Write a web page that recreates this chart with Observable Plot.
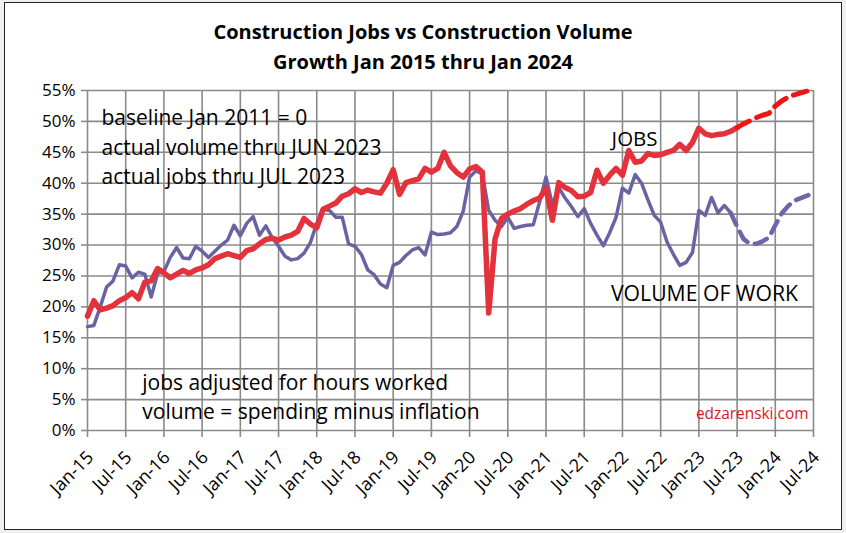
<!DOCTYPE html>
<html><head><meta charset="utf-8">
<script src="https://cdn.jsdelivr.net/npm/d3@7"></script>
<script src="https://cdn.jsdelivr.net/npm/@observablehq/plot@0.6"></script>
<style>
html,body{margin:0;padding:0;background:#efefef;width:846px;height:533px;overflow:hidden;}
#frame{position:absolute;left:4px;top:2px;width:838px;height:528px;background:#fff;border:1.5px solid #222;box-sizing:border-box;}
#title{position:absolute;left:0;top:17px;width:846px;text-align:center;font-family:"Open Sans",sans-serif;font-weight:bold;font-size:20px;line-height:30px;color:#000;}
#chart{position:absolute;left:0;top:75px;}
</style></head>
<body>
<div id="frame"></div>
<div id="title">Construction Jobs vs Construction Volume<br>Growth Jan 2015 thru Jan 2024</div>
<div id="chart"></div>
<script>
// x tick labels, one every 6 months starting Jan-15 (month index 0)
const tickLabels = ["Jan-15","Jul-15","Jan-16","Jul-16","Jan-17","Jul-17","Jan-18","Jul-18","Jan-19","Jul-19",
  "Jan-20","Jul-20","Jan-21","Jul-21","Jan-22","Jul-22","Jan-23","Jul-23","Jan-24","Jul-24"];
const yTicks = [0,5,10,15,20,25,30,35,40,45,50,55];

// Jobs growth %, monthly Jan-15 .. Jul-23 (actual)
const jobsActual = [
  18.5,21.0,19.5,19.8,20.2,21.0,21.5,22.3,21.3,24.0,24.2,26.2,
  25.5,24.7,25.3,25.9,25.4,26.0,26.3,26.8,27.8,28.2,28.6,28.3,
  28.0,29.1,29.4,30.2,30.9,31.1,30.8,31.3,31.6,32.2,34.3,33.4,
  32.8,35.8,36.3,36.8,37.9,38.3,39.1,38.5,38.9,38.6,38.4,40.0,
  42.2,38.2,40.1,40.4,40.7,42.4,41.8,42.4,45.0,42.8,41.7,41.0,
  42.3,42.7,41.8,19.0,31.0,34.3,35.0,35.5,35.9,36.6,37.2,37.6,
  39.2,34.0,40.1,39.3,38.8,37.8,37.9,38.5,42.1,40.0,41.3,42.4,
  41.3,45.3,43.4,43.6,44.8,44.5,44.6,45.0,45.3,46.3,45.3,46.6,
  48.9,48.0,47.7,47.9,48.0,48.4,49.0];
// Jobs forecast, monthly Jul-23 .. Jul-24
const jobsForecast = [49.0,49.6,50.1,50.6,51.0,51.3,52.5,53.3,53.9,54.3,54.6,54.9,55.1];
const jobsForecastStart = 102;

// Volume growth %, monthly Jan-15 .. Jun-23 (actual)
const volumeActual = [
  16.8,17.0,20.0,23.2,24.2,26.8,26.6,24.7,25.6,25.3,21.6,25.4,
  25.7,28.0,29.6,27.9,27.8,29.8,29.0,28.0,29.0,30.0,30.8,33.2,
  31.5,33.5,34.6,31.6,33.1,31.2,29.8,28.2,27.6,27.8,28.7,30.4,
  33.5,35.8,35.6,34.5,34.5,30.2,29.8,28.5,26.0,25.2,23.7,23.1,
  26.7,27.2,28.3,29.2,29.6,28.4,32.1,31.7,31.8,32.0,33.0,35.5,
  41.0,42.0,41.5,35.6,34.0,33.0,34.5,32.7,33.0,33.2,33.3,37.0,
  41.0,36.5,39.3,37.6,36.2,34.6,35.9,33.5,31.6,29.9,32.0,34.5,
  39.2,38.4,41.4,40.0,37.3,34.8,33.7,30.5,28.5,26.7,27.2,28.8,
  35.6,34.8,37.7,35.2,36.4,35.2];
// Volume forecast, monthly Jun-23 .. Jul-24
const volumeForecast = [35.2,33.0,31.0,30.2,30.2,30.6,31.2,33.2,35.1,36.3,37.2,37.6,38.0,38.4];
const volumeForecastStart = 101;

const notesTopLeft = "baseline Jan 2011 = 0\nactual volume thru JUN 2023\nactual jobs thru JUL 2023";
const notesBottomLeft = "jobs adjusted for hours worked\nvolume = spending minus inflation";

const toRows = (arr, start) => arr.map((v, k) => ({m: start + k, v}));
const jobsA = toRows(jobsActual, 0), jobsF = toRows(jobsForecast, jobsForecastStart);
const volA = toRows(volumeActual, 0), volF = toRows(volumeForecast, volumeForecastStart);
const xTicks = tickLabels.map((_, k) => k * 6);

const grid = "#8a8a8a";
const font = "'Open Sans', sans-serif";

const chart = Plot.plot({
  width: 846, height: 455,
  marginLeft: 87, marginRight: 33, marginTop: 15, marginBottom: 100,
  style: {fontFamily: font, background: "transparent", color: "#000"},
  x: {type: "linear", domain: [0, 114]},
  y: {domain: [0, 55]},
  marks: [
    Plot.ruleY(yTicks, {y: d => d, stroke: grid, strokeWidth: 1.6}),
    Plot.ruleX(xTicks, {x: d => d, stroke: grid, strokeWidth: 1.6}),
    Plot.axisY({ticks: yTicks, tickFormat: d => d + "%", tickSize: 6, stroke: grid, strokeWidth: 1.6, fontSize: 17, tickPadding: 6, label: null}),
    Plot.axisX({ticks: xTicks, tickFormat: () => "", tickSize: 7, stroke: grid, strokeWidth: 1.6, label: null}),
    Plot.axisX({ticks: xTicks, tickFormat: d => tickLabels[d / 6], tickSize: 0, fontSize: 18, tickRotate: -45, tickPadding: 11, dy: 13, dx: 3, label: null}),
    Plot.line(volA, {x: "m", y: "v", stroke: "#6a63a3", strokeWidth: 3.5, strokeLinejoin: "round"}),
    Plot.line(volF, {x: "m", y: "v", stroke: "#7462aa", strokeWidth: 4.5, strokeDasharray: "13,8"}),
    Plot.line(jobsA, {x: "m", y: "v", stroke: "#e3323b", strokeWidth: 5.5, strokeLinejoin: "round"}),
    Plot.line(jobsF, {x: "m", y: "v", stroke: "#f21414", strokeWidth: 5, strokeDasharray: "14,8"}),
    Plot.text([notesTopLeft], {x: 2.2, y: 39.8, text: d => d, textAnchor: "start", lineAnchor: "bottom", lineHeight: 1.42, fontSize: 21, fill: "#000"}),
    Plot.text(["JOBS"], {x: 82.3, y: 46.1, text: d => d, textAnchor: "start", lineAnchor: "bottom", fontSize: 20.5, fill: "#000"}),
    Plot.text(["VOLUME OF WORK"], {x: 82.2, y: 20.9, text: d => d, textAnchor: "start", lineAnchor: "bottom", fontSize: 21.2, fill: "#000"}),
    Plot.text([notesBottomLeft], {x: 8.6, y: 1.8, text: d => d, textAnchor: "start", lineAnchor: "bottom", lineHeight: 1.38, fontSize: 21, fill: "#000"}),
    Plot.text(["edzarenski.com"], {x: 113.2, y: 1.9, text: d => d, textAnchor: "end", lineAnchor: "bottom", fontSize: 15.4, fill: "#d42020"})
  ]
});
document.getElementById("chart").appendChild(chart);
</script>
</body></html>
